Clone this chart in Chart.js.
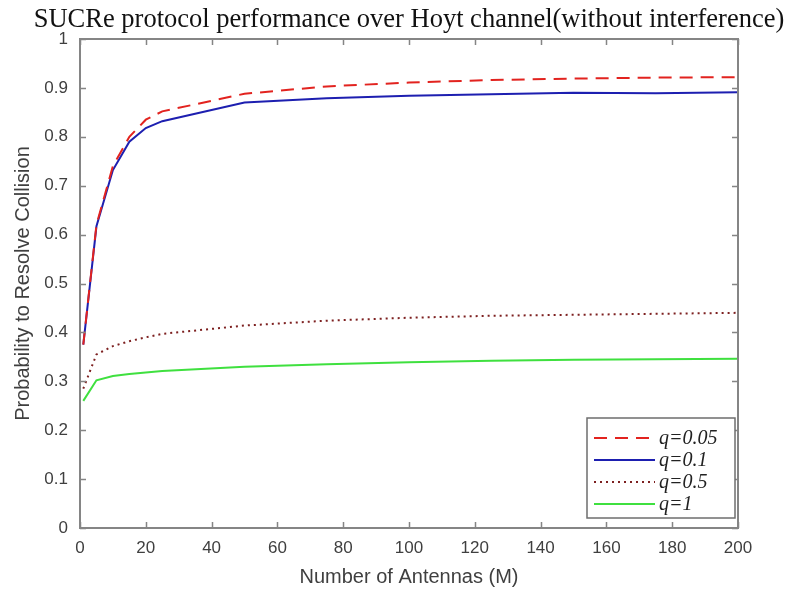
<!DOCTYPE html>
<html>
<head>
<meta charset="utf-8">
<script src="https://cdn.jsdelivr.net/npm/chart.js@4/dist/chart.umd.min.js"></script>
<style>
  html, body { margin: 0; padding: 0; background: #ffffff; }
  #wrap { width: 787px; height: 590px; }
</style>
</head>
<body>
<div id="wrap"><canvas id="c" width="787" height="590"></canvas></div>
<script>
// ---- data ----
const antennas = [1, 5, 10, 15, 20, 25, 50, 75, 100, 125, 150, 175, 200];
const q005 = [0.375, 0.62, 0.74, 0.80, 0.835, 0.852, 0.888, 0.903, 0.911, 0.916, 0.919, 0.921, 0.922];
const q01  = [0.375, 0.617, 0.732, 0.79, 0.818, 0.832, 0.870, 0.879, 0.884, 0.887, 0.890, 0.889, 0.891];
const q05  = [0.285, 0.355, 0.372, 0.382, 0.390, 0.397, 0.414, 0.424, 0.430, 0.434, 0.436, 0.438, 0.440];
const q1   = [0.26, 0.302, 0.311, 0.315, 0.318, 0.321, 0.330, 0.335, 0.339, 0.342, 0.344, 0.345, 0.346];
const seriesLabels = ['q=0.05', 'q=0.1', 'q=0.5', 'q=1'];
const xTicks = [0, 20, 40, 60, 80, 100, 120, 140, 160, 180, 200];
const yTicks = [0, 0.1, 0.2, 0.3, 0.4, 0.5, 0.6, 0.7, 0.8, 0.9, 1];
const titleText = 'SUCRe protocol performance over Hoyt channel(without interference)';

const toPts = (arr) => antennas.map((x, i) => ({ x: x, y: arr[i] }));

const AXIS_COLOR = '#858585';
const TEXT_COLOR = '#3f3f3f';

// title centred over the axes box, drawn at natural width (no squeezing)
const titlePlugin = {
  id: 'axesTitle',
  afterDraw(chart) {
    const { ctx, chartArea: a } = chart;
    ctx.save();
    ctx.fillStyle = '#111111';
    ctx.font = '26.5px "Liberation Serif", "Times New Roman", serif';
    ctx.textAlign = 'center';
    ctx.textBaseline = 'middle';
    ctx.fillText(titleText, (a.left + a.right) / 2, 20);
    ctx.restore();
  }
};

// box + inward ticks on all four sides (MATLAB style)
const boxPlugin = {
  id: 'boxTicks',
  afterDatasetsDraw(chart) {
    const { ctx, chartArea: a, scales } = chart;
    const L = 6;
    ctx.save();
    ctx.strokeStyle = AXIS_COLOR;
    ctx.lineWidth = 1.5;
    ctx.beginPath();
    xTicks.forEach(v => {
      const px = Math.round(scales.x.getPixelForValue(v)) + 0.5;
      ctx.moveTo(px, a.bottom); ctx.lineTo(px, a.bottom - L);
      ctx.moveTo(px, a.top); ctx.lineTo(px, a.top + L);
    });
    yTicks.forEach(v => {
      const py = Math.round(scales.y.getPixelForValue(v)) + 0.5;
      ctx.moveTo(a.left, py); ctx.lineTo(a.left + L, py);
      ctx.moveTo(a.right, py); ctx.lineTo(a.right - L, py);
    });
    ctx.stroke();
    ctx.lineWidth = 2;
    ctx.strokeRect(a.left, a.top, a.right - a.left, a.bottom - a.top);
    ctx.restore();
  }
};

// legend box in the south-east corner of the axes
const legendPlugin = {
  id: 'seLegend',
  afterDraw(chart) {
    const { ctx, chartArea: a } = chart;
    const w = 148, h = 100;
    const x0 = a.right - 3 - w, y0 = a.bottom - 10 - h;
    ctx.save();
    ctx.fillStyle = '#ffffff';
    ctx.fillRect(x0, y0, w, h);
    ctx.strokeStyle = '#6e6e6e';
    ctx.lineWidth = 1.5;
    ctx.strokeRect(x0, y0, w, h);
    const rowH = 22;
    chart.data.datasets.forEach((ds, i) => {
      const cy = y0 + 20 + i * rowH;
      ctx.save();
      ctx.strokeStyle = ds.borderColor;
      ctx.lineWidth = ds.borderWidth;
      ctx.setLineDash(ds.borderDash || []);
      ctx.beginPath();
      ctx.moveTo(x0 + 7, cy);
      ctx.lineTo(x0 + 68, cy);
      ctx.stroke();
      ctx.restore();
      ctx.fillStyle = '#222222';
      ctx.font = 'italic 20px "Liberation Serif", "DejaVu Serif", serif';
      ctx.textBaseline = 'middle';
      ctx.textAlign = 'left';
      ctx.fillText(ds.label, x0 + 72, cy + 1);
    });
    ctx.restore();
  }
};

new Chart(document.getElementById('c'), {
  type: 'line',
  data: {
    datasets: [
      { label: seriesLabels[0], data: toPts(q005), borderColor: '#e2231f', borderWidth: 2, borderDash: [13, 8] },
      { label: seriesLabels[1], data: toPts(q01),  borderColor: '#1d1fb0', borderWidth: 2 },
      { label: seriesLabels[2], data: toPts(q05),  borderColor: '#7d2020', borderWidth: 2, borderDash: [2, 4] },
      { label: seriesLabels[3], data: toPts(q1),   borderColor: '#3fe03f', borderWidth: 2 }
    ]
  },
  options: {
    responsive: false,
    devicePixelRatio: 1,
    animation: false,
    layout: { padding: { left: 0, right: 49, top: 39, bottom: 0 } },
    elements: { point: { radius: 0 }, line: { tension: 0, borderCapStyle: 'butt' } },
    plugins: {
      legend: { display: false },
      tooltip: { enabled: false },
      title: { display: false }
    },
    scales: {
      x: {
        type: 'linear',
        min: 0, max: 200,
        afterBuildTicks: (s) => { s.ticks = xTicks.map(v => ({ value: v })); },
        afterFit: (s) => { s.height = 62; },
        grid: { display: false, drawTicks: false },
        border: { display: false },
        ticks: { color: TEXT_COLOR, padding: 10, maxRotation: 0, font: { family: '"Liberation Sans", Arial, sans-serif', size: 17 } },
        title: { display: true, text: 'Number of Antennas (M)', color: TEXT_COLOR, padding: { top: 0, bottom: 1 },
                 font: { family: '"Liberation Sans", Arial, sans-serif', size: 20 } }
      },
      y: {
        type: 'linear',
        min: 0, max: 1,
        afterBuildTicks: (s) => { s.ticks = yTicks.map(v => ({ value: v })); },
        afterFit: (s) => { s.width = 80; },
        grid: { display: false, drawTicks: false },
        border: { display: false },
        ticks: { color: TEXT_COLOR, padding: 12, font: { family: '"Liberation Sans", Arial, sans-serif', size: 17 },
                 callback: (v) => String(Number(v.toFixed(1))) },
        title: { display: true, text: 'Probability to Resolve Collision', color: TEXT_COLOR, padding: { top: 11, bottom: 0 },
                 font: { family: '"Liberation Sans", Arial, sans-serif', size: 20 } }
      }
    }
  },
  plugins: [boxPlugin, legendPlugin, titlePlugin]
});
</script>
</body>
</html>
